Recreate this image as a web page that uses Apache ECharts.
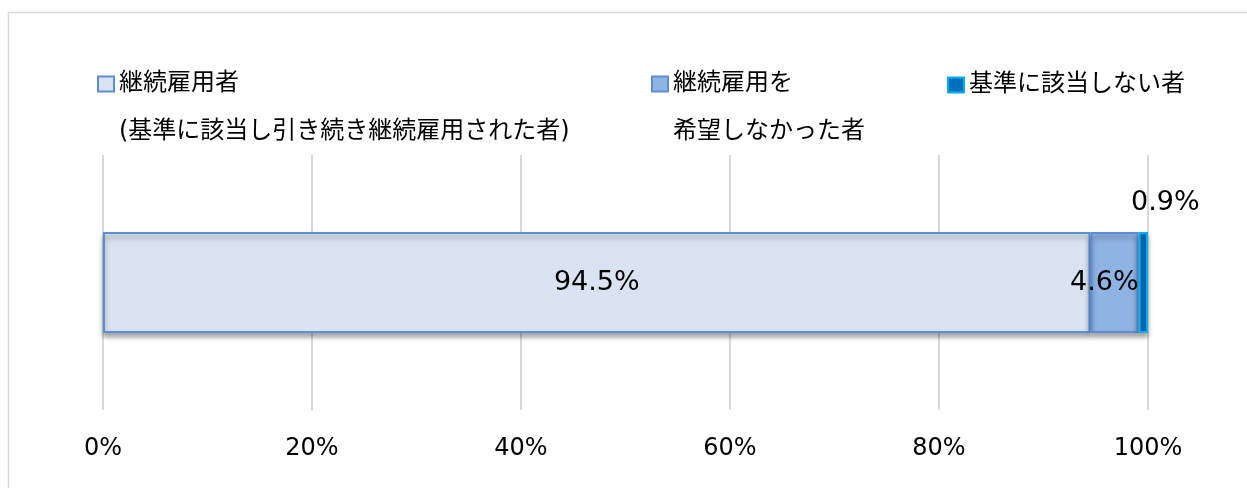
<!DOCTYPE html>
<html>
<head>
<meta charset="utf-8">
<script src="https://cdn.jsdelivr.net/npm/echarts@6/dist/echarts.min.js"></script>
<style>
html,body{margin:0;padding:0;background:#fff;}
#chart{width:1247px;height:488px;}
</style>
</head>
<body>
<div id="chart"></div>
<script>
const categories = ['全体'];
const seriesNames = ['継続雇用者', '継続雇用を', '基準に該当しない者'];
const seriesSubNames = ['(基準に該当し引き続き継続雇用された者)', '希望しなかった者', ''];
const values1 = [94.5];
const values2 = [4.6];
const values3 = [0.9];
const xTicks = [0, 20, 40, 60, 80, 100];

const FONT = '"DejaVu Sans", "Noto Sans CJK JP", sans-serif';
const fills = ['#DAE3F1', '#8FB3E3', '#0070C0'];
const borders = ['#5B8ED6', '#5B8ED6', '#00B0F0'];
const allValues = [values1, values2, values3];

const chart = echarts.init(document.getElementById('chart'));

const labelCfg = [
  {show: true, position: 'inside', formatter: '{c}%', color: '#000', fontSize: 27, fontFamily: FONT},
  {show: true, position: 'insideRight', distance: 0, formatter: '{c}%', color: '#000', fontSize: 27, fontFamily: FONT},
  {show: true, position: 'top', distance: 6, offset: [22, -10], formatter: '{c}%', color: '#000', fontSize: 27, fontFamily: FONT}
];

const series = seriesNames.map((n, i) => ({
  name: n,
  type: 'bar',
  stack: 'total',
  barWidth: 101,
  data: allValues[i],
  itemStyle: {
    color: fills[i],
    borderColor: borders[i],
    borderWidth: 2,
    shadowColor: 'rgba(0,0,0,0.35)',
    shadowBlur: 5,
    shadowOffsetY: 4
  },
  label: labelCfg[i]
}));

const legendLefts = [97, 651, 947];
const legends = seriesNames.map((n, i) => {
  const sub = seriesSubNames[i];
  return {
    data: [n],
    left: legendLefts[i],
    top: sub ? 12 : 61,
    padding: 0,
    itemWidth: 16,
    itemHeight: 15,
    icon: 'rect',
    selectedMode: false,
    formatter: sub ? (name) => ' \n' + name + '\n' + sub : '{name}',
    textStyle: {
      fontSize: 24,
      fontFamily: FONT,
      color: '#000',
      lineHeight: 48
    }
  };
});

chart.setOption({
  animation: false,
  backgroundColor: '#fff',
  graphic: [{
    type: 'rect',
    shape: {x: 8.5, y: 12.5, width: 1260, height: 500},
    style: {fill: 'none', stroke: '#d9d9d9', lineWidth: 1.5},
    silent: true,
    z: -10
  }],
  legend: legends,
  grid: {left: 103, right: 99, top: 155, bottom: 78, containLabel: false},
  xAxis: {
    type: 'value',
    min: xTicks[0],
    max: xTicks[xTicks.length - 1],
    interval: xTicks[1] - xTicks[0],
    axisLine: {show: false},
    axisTick: {show: false},
    splitLine: {show: true, lineStyle: {color: '#d9d9d9', width: 2}},
    axisLabel: {formatter: '{value}%', color: '#000', fontSize: 24, fontFamily: FONT, margin: 27}
  },
  yAxis: {
    type: 'category',
    data: categories,
    axisLine: {show: false},
    axisTick: {show: false},
    axisLabel: {show: false}
  },
  series: series
});
</script>
</body>
</html>
